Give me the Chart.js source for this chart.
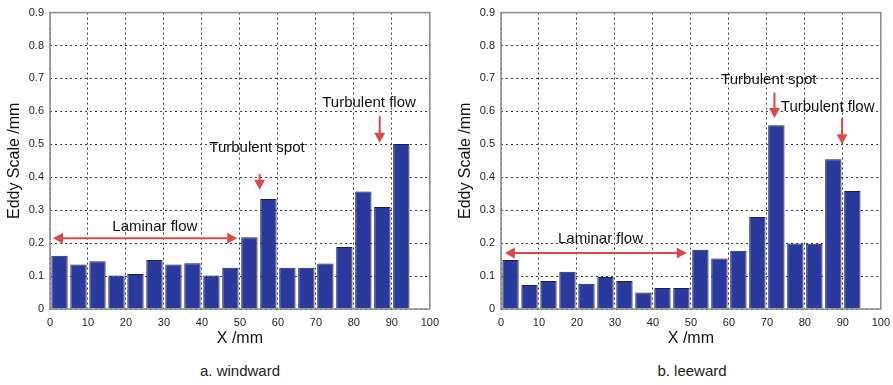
<!DOCTYPE html>
<html>
<head>
<meta charset="utf-8">
<script src="https://cdn.jsdelivr.net/npm/chart.js@4/dist/chart.umd.min.js"></script>
<style>
  body { margin: 0; background: #fff; width: 893px; height: 385px; position: relative; overflow: hidden; font-family: "Liberation Sans", Arial, sans-serif; }
  .box { position: absolute; top: 0; width: 446px; height: 352px; }
  .cap { position: absolute; top: 362px; font-size: 15px; color: #222; transform: translateX(-50%); white-space: nowrap; }
</style>
</head>
<body>
<div class="box" style="left:0"><canvas id="windChart"></canvas></div>
<div class="box" style="left:451px"><canvas id="leeChart"></canvas></div>
<div class="cap" style="left:240px">a. windward</div>
<div class="cap" style="left:692px">b. leeward</div>
<script>
// Posições das barras (centro, mm)
const xPos = [2.5, 7.5, 12.5, 17.5, 22.5, 27.5, 32.5, 37.5, 42.5, 47.5,
              52.5, 57.5, 62.5, 67.5, 72.5, 77.5, 82.5, 87.5, 92.5];
// Escala dos vórtices (mm)
const windward = [0.162, 0.135, 0.145, 0.102, 0.106, 0.149, 0.135, 0.139, 0.102, 0.125,
                  0.218, 0.334, 0.125, 0.125, 0.138, 0.188, 0.357, 0.310, 0.501];
const leeward = [0.149, 0.073, 0.085, 0.113, 0.077, 0.097, 0.085, 0.050, 0.064, 0.064,
                 0.180, 0.153, 0.177, 0.279, 0.558, 0.199, 0.198, 0.455, 0.358];
const xTicks = [0, 10, 20, 30, 40, 50, 60, 70, 80, 90, 100];
const yTicks = [0, 0.1, 0.2, 0.3, 0.4, 0.5, 0.6, 0.7, 0.8, 0.9];

// Anotações (coordenadas de dados)
const windNotes = [
    { text: 'Laminar flow', x: 27.6, y: 0.25 },
    { text: 'Turbulent spot', x: 54.5, y: 0.49 },
    { text: 'Turbulent flow', x: 84, y: 0.625 }
];
const windArrows = [
    { x1: 0.8, y1: 0.215, x2: 49.3, y2: 0.215, both: true },
    { x1: 55.2, y1: 0.41, x2: 55.2, y2: 0.362 },
    { x1: 86.8, y1: 0.585, x2: 86.8, y2: 0.505 }
];
const leeNotes = [
    { text: 'Laminar flow', x: 26.2, y: 0.213 },
    { text: 'Turbulent spot', x: 70.5, y: 0.696 },
    { text: 'Turbulent flow', x: 86, y: 0.614 }
];
const leeArrows = [
    { x1: 1, y1: 0.17, x2: 48.9, y2: 0.17, both: true },
    { x1: 72, y1: 0.657, x2: 72, y2: 0.58 },
    { x1: 89.8, y1: 0.58, x2: 89.8, y2: 0.5 }
];

const RED = '#d94b4b';

function arrowHead(ctx, x, y, dx, dy) {
    const len = 10, half = 5.5;
    ctx.beginPath();
    ctx.moveTo(x, y);
    ctx.lineTo(x - dx * len - dy * half, y - dy * len + dx * half);
    ctx.lineTo(x - dx * len + dy * half, y - dy * len - dx * half);
    ctx.closePath();
    ctx.fill();
}

const notesPlugin = {
    id: 'notes',
    afterDatasetsDraw(chart, args, opts) {
        const { ctx, scales: { x, y }, chartArea: a } = chart;
        ctx.save();
        // moldura
        ctx.strokeStyle = '#8a8a8a';
        ctx.lineWidth = 1.5;
        ctx.strokeRect(a.left, a.top, a.right - a.left, a.bottom - a.top);
        // setas
        ctx.strokeStyle = RED;
        ctx.fillStyle = RED;
        ctx.lineWidth = 2;
        opts.arrows.forEach(ar => {
            const x1 = x.getPixelForValue(ar.x1), y1 = y.getPixelForValue(ar.y1);
            const x2 = x.getPixelForValue(ar.x2), y2 = y.getPixelForValue(ar.y2);
            const d = Math.hypot(x2 - x1, y2 - y1);
            const dx = (x2 - x1) / d, dy = (y2 - y1) / d;
            ctx.beginPath();
            ctx.moveTo(ar.both ? x1 + dx * 8 : x1, ar.both ? y1 + dy * 8 : y1);
            ctx.lineTo(x2 - dx * 8, y2 - dy * 8);
            ctx.stroke();
            arrowHead(ctx, x2, y2, dx, dy);
            if (ar.both) arrowHead(ctx, x1, y1, -dx, -dy);
        });
        // textos
        ctx.fillStyle = '#111';
        ctx.font = '15px "Liberation Sans", Arial, sans-serif';
        ctx.textAlign = 'center';
        ctx.textBaseline = 'middle';
        opts.notes.forEach(n => {
            ctx.fillText(n.text, x.getPixelForValue(n.x), y.getPixelForValue(n.y));
        });
        ctx.restore();
    }
};

function makeChart(id, values, notes, arrows) {
    const ctx = document.getElementById(id).getContext('2d');
    return new Chart(ctx, {
        type: 'bar',
        data: {
            datasets: [{
                data: xPos.map((v, i) => ({ x: v, y: values[i] })),
                backgroundColor: '#2a3a9c',
                borderColor: '#1b1f4e',
                borderWidth: 1,
                barPercentage: 0.86,
                categoryPercentage: 1
            }]
        },
        plugins: [notesPlugin],
        options: {
            responsive: true,
            maintainAspectRatio: false,
            animation: false,
            layout: { padding: { top: 9, right: 10, left: 0, bottom: 0 } },
            plugins: {
                legend: { display: false },
                tooltip: { enabled: false },
                notes: { notes: notes, arrows: arrows }
            },
            scales: {
                x: {
                    type: 'linear',
                    offset: false,
                    min: 0, max: 100,
                    afterBuildTicks: s => { s.ticks = xTicks.map(v => ({ value: v })); },
                    afterFit: s => { s.height = 43; },
                    grid: { color: '#3a3a3a', lineWidth: 1, drawTicks: false, offset: false },
                    border: { display: false, dash: [2, 3] },
                    ticks: { padding: 7, color: '#222', maxRotation: 0, font: { size: 11, family: '"Liberation Sans", Arial' } },
                    title: { display: true, text: 'X /mm', color: '#111', padding: { top: 2, bottom: 4 }, font: { size: 16, family: '"Liberation Sans", Arial' } }
                },
                y: {
                    min: 0, max: 0.9,
                    afterBuildTicks: s => { s.ticks = yTicks.map(v => ({ value: v })); },
                    afterFit: s => { s.width = 50; },
                    grid: { color: '#3a3a3a', lineWidth: 1, drawTicks: false },
                    border: { display: false, dash: [2, 3] },
                    ticks: { padding: 6, color: '#222', font: { size: 11, family: '"Liberation Sans", Arial' } },
                    title: { display: true, text: 'Eddy Scale /mm', color: '#111', padding: { top: 5, bottom: 2 }, font: { size: 16, family: '"Liberation Sans", Arial' } }
                }
            }
        }
    });
}

makeChart('windChart', windward, windNotes, windArrows);
makeChart('leeChart', leeward, leeNotes, leeArrows);
</script>
</body>
</html>
